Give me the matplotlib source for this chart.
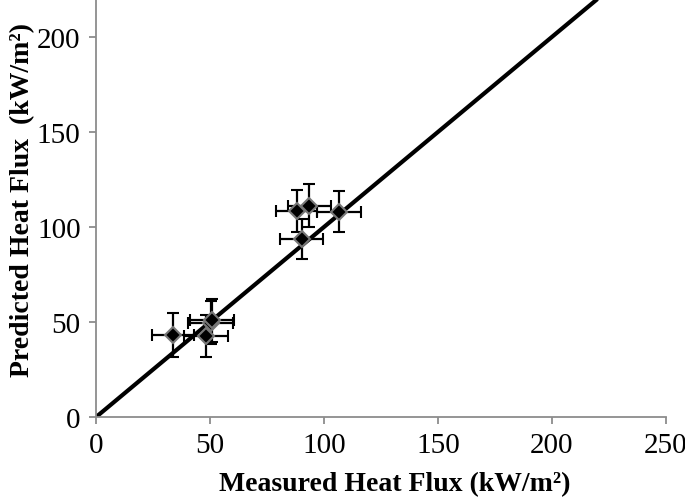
import numpy as np
import matplotlib
matplotlib.use("Agg")
import matplotlib.pyplot as plt

# measured vs predicted heat flux (kW/m2)
measured = [33.9, 48.3, 50.3, 50.8, 88.0, 90.2, 93.6, 106.6]
predicted = [43.0, 42.6, 49.8, 51.0, 108.6, 93.7, 111.2, 108.0]
measured_err = [9.2, 9.5, 9.8, 9.6, 9.2, 9.3, 9.4, 9.5]
predicted_err = [11.6, 11.1, 11.4, 11.2, 11.0, 10.7, 11.3, 10.8]
parity = [0, 250]

plt.rcParams["font.family"] = ["Liberation Serif", "DejaVu Serif"]

fig = plt.figure(figsize=(6.85, 5.02), dpi=100)
ax = fig.add_axes([0.140, 0.167, 0.832, 0.833])

ax.plot(parity, parity, color="black", lw=3, solid_capstyle="butt", zorder=2)
ax.errorbar(measured, predicted, xerr=measured_err, yerr=predicted_err,
            fmt="D", ms=8, mfc="black", mec="#777777", mew=1.5,
            ecolor="black", elinewidth=1.6, capsize=4.5, capthick=1.6, zorder=3)

ax.set_xlim(0, 250)
ax.set_ylim(0, 220)
ax.set_xticks([0, 50, 100, 150, 200, 250])
ax.set_yticks([0, 50, 100, 150, 200])
for s in ("top", "right"):
    ax.spines[s].set_visible(False)
for s in ("left", "bottom"):
    ax.spines[s].set_color("#8c8c8c")
    ax.spines[s].set_linewidth(1.3)
ax.tick_params(direction="out", length=5, width=1.3, color="#8c8c8c",
               labelsize=21, pad=6)

ax.set_xlabel("Measured Heat Flux (kW/m²)", fontsize=20, fontweight="bold")
ax.set_ylabel("Predicted Heat Flux  (kW/m²)", fontsize=20, fontweight="bold")
ax.xaxis.set_label_coords(0.5246, -0.13)
ax.yaxis.set_label_coords(-0.107, 0.521)

fig.savefig("out.png", dpi=100)
